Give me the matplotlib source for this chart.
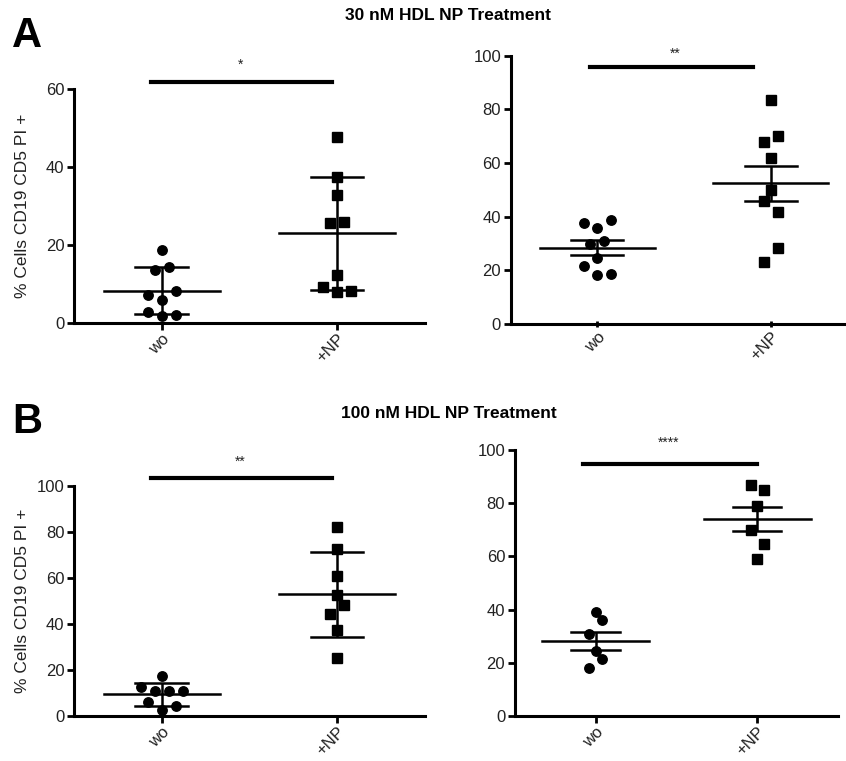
import matplotlib
matplotlib.use("Agg")
import matplotlib.pyplot as plt
import numpy as np

plt.rcParams['font.family'] = ['Liberation Sans', 'DejaVu Sans']

groups = ["wo", "+NP"]

# panel A (30 nM), left: SD error bars
a_left_wo = [18.7, 13.4, 14.4, 7.0, 5.9, 8.2, 2.7, 1.6, 2.0]
a_left_np = [47.8, 37.5, 32.7, 25.6, 25.9, 12.3, 9.2, 8.0, 8.2]
# panel A, right: SEM error bars
a_right_wo = [37.8, 35.9, 38.8, 29.9, 30.9, 24.6, 21.7, 18.2, 18.7]
a_right_np = [83.5, 69.9, 67.7, 61.8, 49.8, 45.7, 41.8, 28.2, 23.3]
# panel B (100 nM), left: SD error bars
b_left_wo = [17.6, 12.6, 10.9, 10.9, 10.9, 5.9, 4.3, 2.6]
b_left_np = [81.9, 72.3, 60.7, 52.6, 48.0, 44.3, 37.3, 25.4]
# panel B, right: SEM error bars
b_right_wo = [39.0, 35.9, 30.7, 24.5, 21.5, 18.0]
b_right_np = [86.6, 84.8, 78.7, 69.9, 64.7, 58.8]

# horizontal scatter slots (Prism-style column layout), same order as the values
slots = {
    "a_left_wo": [0, -1, 1, -2, 0, 2, -2, 0, 2],
    "a_left_np": [0, 0, 0, -1, 1, 0, -2, 0, 2],
    "a_right_wo": [-2, 0, 2, -1, 1, 0, -2, 0, 2],
    "a_right_np": [0, 1, -1, 0, 0, -1, 1, 1, -1],
    "b_left_wo": [0, -3, -1, 1, 3, -2, 2, 0],
    "b_left_np": [0, 0, 0, 0, 1, -1, 0, 0],
    "b_right_wo": [0, 1, -1, 0, 1, -1],
    "b_right_np": [-1, 1, 0, -1, 1, 0],
}

significance = ["*", "**", "**", "****"]

fig = plt.figure(figsize=(8.46, 7.61), dpi=100)

text_col = "#222222"


def draw_panel(rect, wo, np_vals, wo_key, np_key, err, ymax, yticks, xlim,
               sig, sig_y, sig_x, star_y, ylabel=None, tickdir="out"):
    ax = fig.add_axes(rect)
    for i, (vals, key, marker) in enumerate([(wo, wo_key, "o"), (np_vals, np_key, "s")]):
        vals = np.array(vals)
        xs = i + 0.04 * np.array(slots[key])
        ax.plot(xs, vals, linestyle="none", marker=marker, color="black",
                markersize=6.8, clip_on=False, zorder=3)
        m = vals.mean()
        e = vals.std(ddof=1)
        if err == "sem":
            e = e / np.sqrt(len(vals))
        ax.plot([i - 0.33, i + 0.33], [m, m], color="black", lw=1.8, zorder=2)
        ax.errorbar([i], [m], yerr=[e], fmt="none", ecolor="black", elinewidth=1.8,
                    capsize=0, zorder=2)
        for y in (m - e, m + e):
            ax.plot([i - 0.15, i + 0.15], [y, y], color="black", lw=1.8, zorder=2)
    ax.plot(sig_x, [sig_y, sig_y], color="black", lw=3, clip_on=False)
    ax.text(0.45, star_y, sig, ha="center", va="center", fontsize=10,
            color=text_col)
    ax.set_xlim(*xlim)
    ax.set_ylim(0, ymax)
    ax.set_yticks(yticks)
    ax.set_xticks([0, 1])
    ax.set_xticklabels(groups, rotation=45, ha="right", rotation_mode="anchor",
                       fontsize=12, color=text_col)
    ax.tick_params(axis="y", labelsize=12, labelcolor=text_col, width=2, length=5, pad=2)
    ax.tick_params(axis="x", width=2, length=5, direction=tickdir, pad=1)
    for s in ("top", "right"):
        ax.spines[s].set_visible(False)
    for s in ("left", "bottom"):
        ax.spines[s].set_linewidth(2.2)
    if ylabel:
        ax.set_ylabel(ylabel, fontsize=12.5, color=text_col)
        ax.yaxis.set_label_coords(-0.125, 0.5)
    return ax


ylab = "% Cells CD19 CD5 PI +"

draw_panel([0.0875, 0.576, 0.4145, 0.307], a_left_wo, a_left_np, "a_left_wo", "a_left_np",
           "sd", 60, [0, 20, 40, 60], (-0.5, 1.5), significance[0], 61.8,
           [-0.06, 0.97], 66.2, ylabel=ylab)
draw_panel([0.6037, 0.574, 0.3963, 0.353], a_right_wo, a_right_np, "a_right_wo", "a_right_np",
           "sem", 100, [0, 20, 40, 60, 80, 100], (-0.5, 1.435), significance[1], 95.9,
           [-0.04, 0.90], 100.8, tickdir="inout")
draw_panel([0.0875, 0.059, 0.4145, 0.303], b_left_wo, b_left_np, "b_left_wo", "b_left_np",
           "sd", 100, [0, 20, 40, 60, 80, 100], (-0.5, 1.5), significance[2], 103.1,
           [-0.06, 0.97], 110.4, ylabel=ylab)
draw_panel([0.6087, 0.059, 0.3818, 0.350], b_right_wo, b_right_np, "b_right_wo", "b_right_np",
           "sem", 100, [0, 20, 40, 60, 80, 100], (-0.5, 1.5), significance[3], 94.8,
           [-0.08, 1.0], 102.5)

fig.text(0.53, 1 - 16 / 761, "30 nM HDL NP Treatment", ha="center", va="center",
         fontsize=12.5, fontweight="bold", color="black")
fig.text(0.53, 1 - 414 / 761, "100 nM HDL NP Treatment", ha="center", va="center",
         fontsize=12.5, fontweight="bold", color="black")
fig.text(12 / 846, 1 - 36 / 761, "A", ha="left", va="center", fontsize=30,
         fontweight="bold", color="black")
fig.text(12 / 846, 1 - 422 / 761, "B", ha="left", va="center", fontsize=30,
         fontweight="bold", color="black")

fig.savefig("out.png", dpi=100)
